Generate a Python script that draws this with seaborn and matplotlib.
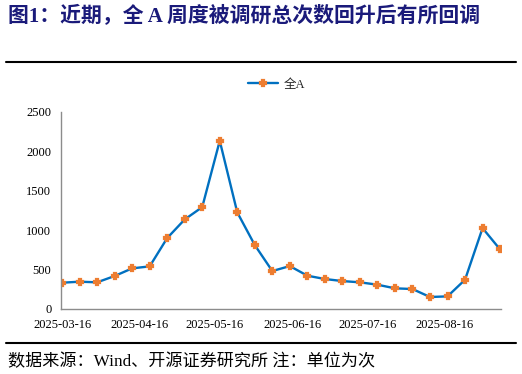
import pandas as pd
import matplotlib
matplotlib.use("Agg")
import matplotlib.pyplot as plt
import matplotlib.dates as mdates
from matplotlib.lines import Line2D
import seaborn as sns

# weekly total research visits, all A-shares
week_start = "2025-03-16"
n_weeks = 26
visits = [333, 346, 338, 418, 515, 540, 899, 1135, 1291, 2131, 1224, 810,
          481, 544, 422, 380, 354, 338, 308, 262, 253, 152, 160, 371, 1025, 755]
series_name = "全A"
tick_dates = ["2025-03-16", "2025-04-16", "2025-05-16", "2025-06-16",
              "2025-07-16", "2025-08-16"]
y_ticks = [0, 500, 1000, 1500, 2000, 2500]

title = "图1：近期，全 A 周度被调研总次数回升后有所回调"
footer = "数据来源：Wind、开源证券研究所 注：单位为次"

df = pd.DataFrame({
    "date": pd.date_range(week_start, periods=n_weeks, freq="7D"),
    "visits": visits,
    "series": series_name,
})

sns.set_style("white")
plt.rcParams["font.family"] = ["Liberation Serif", "Noto Sans CJK SC", "DejaVu Sans"]

fig = plt.figure(figsize=(5.22, 3.74), dpi=100)
ax = fig.add_axes([0.1169, 0.1738, 0.8431, 0.5275])

sns.lineplot(data=df, x="date", y="visits", hue="series", palette=["#0070C0"],
             linewidth=1.7, marker="P", markersize=4.8, markerfacecolor="#ED7D31",
             markeredgecolor="#ED7D31", markeredgewidth=1.6, ax=ax)

ax.set_ylim(0, 2500)
ax.set_yticks(y_ticks)
ax.set_xlim(pd.Timestamp("2025-03-15 14:00"), pd.Timestamp("2025-09-07 10:00"))
ax.set_xticks(pd.to_datetime(tick_dates))
ax.xaxis.set_major_formatter(mdates.DateFormatter("%Y-%m-%d"))
ax.set_xlabel("")
ax.set_ylabel("")

for side in ["top", "right"]:
    ax.spines[side].set_visible(False)
for side in ["left", "bottom"]:
    ax.spines[side].set_color("#8c8c8c")
    ax.spines[side].set_linewidth(1)

ax.tick_params(axis="x", direction="in", length=4, color="#8c8c8c",
               labelsize=9, pad=7, labelcolor="#000000")
ax.tick_params(axis="y", direction="out", length=3, color="#8c8c8c",
               labelsize=9, pad=4, labelcolor="#000000")

leg = ax.legend(loc="lower center", bbox_to_anchor=(0.49, 1.05), frameon=False,
                fontsize=9, handlelength=2.4, handletextpad=0.4)
for h in leg.legend_handles:
    h.set_marker("P")
    h.set_markersize(4.8)
    h.set_markeredgewidth(1.6)
    h.set_markerfacecolor("#ED7D31")
    h.set_markeredgecolor("#ED7D31")

fig.text(0.015, 0.955, title, fontsize=15, fontweight="bold", color="#1a1a7a",
         va="center", ha="left",
         family=["Liberation Serif", "Noto Sans CJK SC"])
fig.text(0.015, 0.032, footer, fontsize=12.3, color="#000000", va="center", ha="left",
         family=["Liberation Serif", "Noto Sans CJK SC"])

fig.add_artist(Line2D([0.0115, 0.9885], [1 - 62 / 374, 1 - 62 / 374],
                      transform=fig.transFigure, color="black", linewidth=1.5))
fig.add_artist(Line2D([0.0115, 0.9885], [1 - 343 / 374, 1 - 343 / 374],
                      transform=fig.transFigure, color="black", linewidth=1.5))

fig.savefig("out.png", dpi=100)
